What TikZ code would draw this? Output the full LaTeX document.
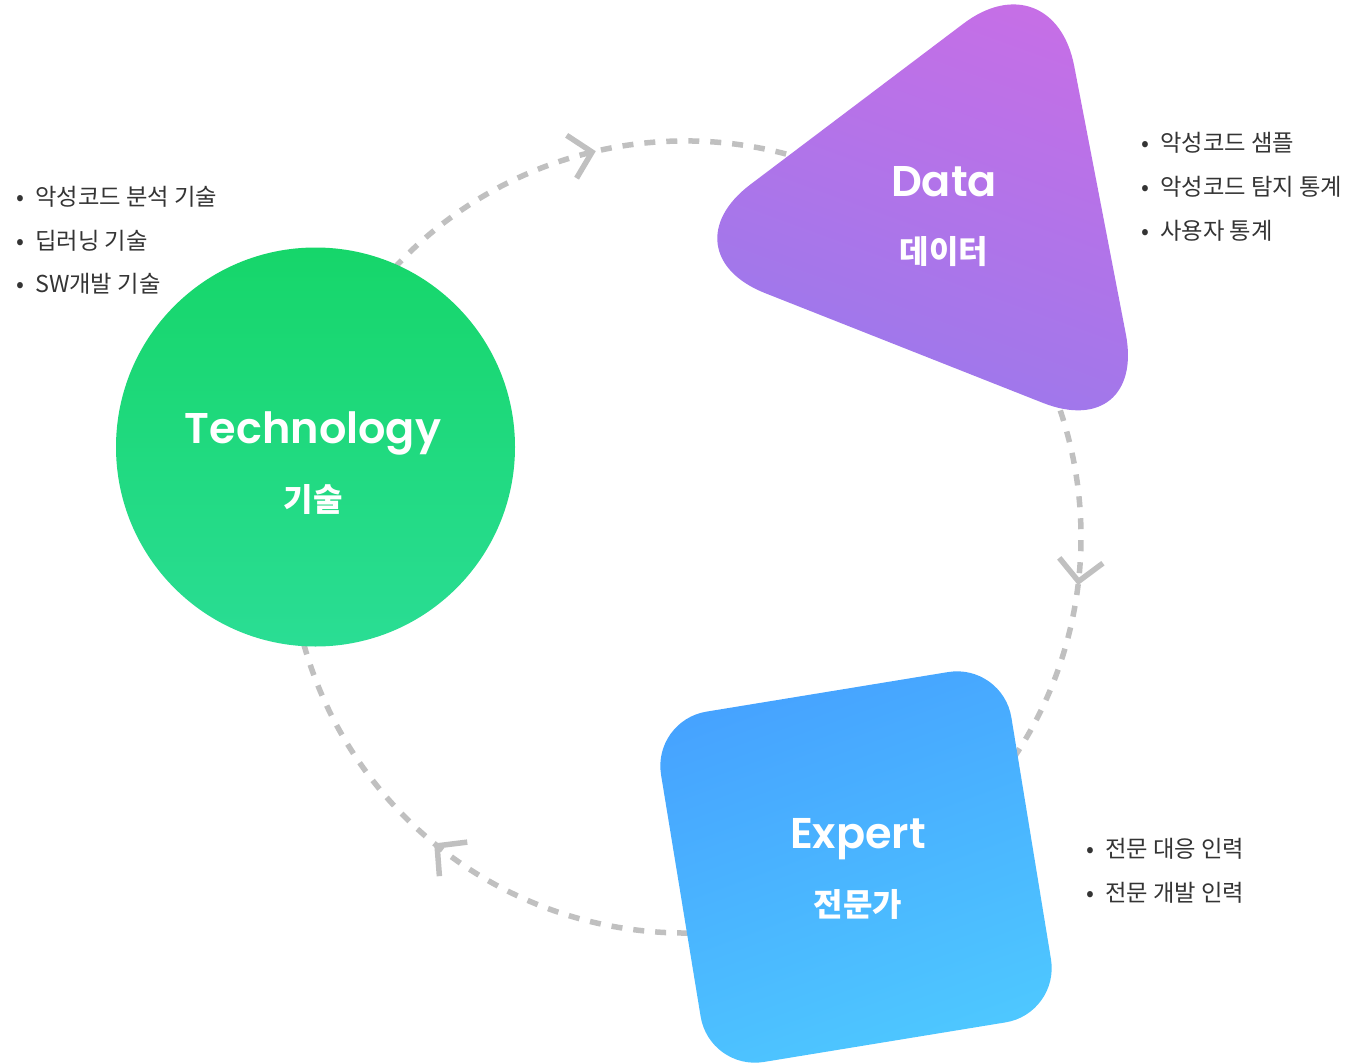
\documentclass[tikz,border=0pt]{standalone}
\usepackage{fontspec}
\setmainfont{Noto Sans CJK KR}
\newfontfamily\headfont{Poppins}[UprightFont=* SemiBold]
\usetikzlibrary{
	arrows.meta,
	decorations.markings,
	calc
}

\definecolor{dashgray}{RGB}{192,192,192}
\definecolor{listgray}{RGB}{52,52,52}
\definecolor{techtop}{RGB}{22,214,106}
\definecolor{techbot}{RGB}{42,221,148}
\definecolor{datatop}{RGB}{200,110,230}
\definecolor{databot}{RGB}{150,122,236}
\definecolor{exptop}{RGB}{70,162,255}
\definecolor{expbot}{RGB}{78,200,255}

\newcommand{\listdot}{\makebox[0pt][c]{•}\hspace{15pt}}

\tikzset{
	cycleline/.style={dashgray, line width=5.5pt, dash pattern=on 11pt off 11pt},
	cyclearrow/.style={postaction={decorate}, decoration={markings,
		mark=at position #1 with {\arrow{Straight Barb[length=21pt,width=44pt,line width=5.5pt]}}}},
	techfill/.style={top color=techtop, bottom color=techbot},
	datafill/.style={top color=datatop, bottom color=databot, shading angle=-20},
	expfill/.style={top color=exptop, bottom color=expbot, shading angle=20},
	headtxt/.style={white, inner sep=0pt, anchor=base, font=\headfont\fontsize{43}{43}\selectfont},
	kortxt/.style={white, inner sep=0pt, anchor=base, font=\bfseries\fontsize{32}{32}\selectfont},
	listtxt/.style={listgray, inner sep=0pt, anchor=base west, font=\fontsize{23.3}{23.3}\selectfont}
}

\begin{document}
\begin{tikzpicture}[x=1pt, y=-1pt]
    \useasboundingbox (0,0) rectangle (1372,1062);
    % Definitions
    \coordinate (ring)    at (685,537);
    \coordinate (tech)    at (315.5,447);
    \coordinate (dataA)   at (1053,-44);
    \coordinate (dataB)   at (661,252);
    \coordinate (dataC)   at (1147,444);
    \coordinate (expert)  at (856,867);
    \coordinate (techout) at ($(ring)+(-150:396)$);
    \coordinate (dataout) at ($(ring)+(-25:396)$);
    \coordinate (expout)  at ($(ring)+(80:396)$);
    % Dashed cycle
    \draw[cycleline, cyclearrow=0.522] (techout) arc[start angle=-150, end angle=-60, radius=396];
    \draw[cycleline, cyclearrow=0.492] (dataout) arc[start angle=-25, end angle=40, radius=396];
    \draw[cycleline, cyclearrow=0.519] (expout) arc[start angle=80, end angle=175, radius=396];
    % Shapes
    \shade[techfill] (tech) circle[radius=199.5];
    \shade[datafill, rounded corners=112pt] (dataA) -- (dataB) -- (dataC) -- cycle;
    \begin{scope}[shift={(expert)}, rotate=9.3]
        \shade[expfill, rounded corners=55pt] (-177.5,-177.5) rectangle (177.5,177.5);
    \end{scope}
    % Titles
    \node[headtxt] (technology) at (313,443) {Technology};
    \node[kortxt]  (gisul)      at (313,511) {기술};
    \node[headtxt] (dataname)   at (944,196) {Data};
    \node[kortxt]  (deiteo)     at (944,263) {데이터};
    \node[headtxt] (expertname) at (858,848) {Expert};
    \node[kortxt]  (jeonmunga)  at (858,916) {전문가};
    % Lists
    \node[listtxt] (techA) at (20,205)   {\listdot 악성코드 분석 기술};
    \node[listtxt] (techB) at (20,249)   {\listdot 딥러닝 기술};
    \node[listtxt] (techC) at (20,292)   {\listdot SW개발 기술};
    \node[listtxt] (dataA) at (1145,151) {\listdot 악성코드 샘플};
    \node[listtxt] (dataB) at (1145,195) {\listdot 악성코드 탐지 통계};
    \node[listtxt] (dataC) at (1145,239) {\listdot 사용자 통계};
    \node[listtxt] (expA)  at (1090,857) {\listdot 전문 대응 인력};
    \node[listtxt] (expB)  at (1090,901) {\listdot 전문 개발 인력};
\end{tikzpicture}
\end{document}
